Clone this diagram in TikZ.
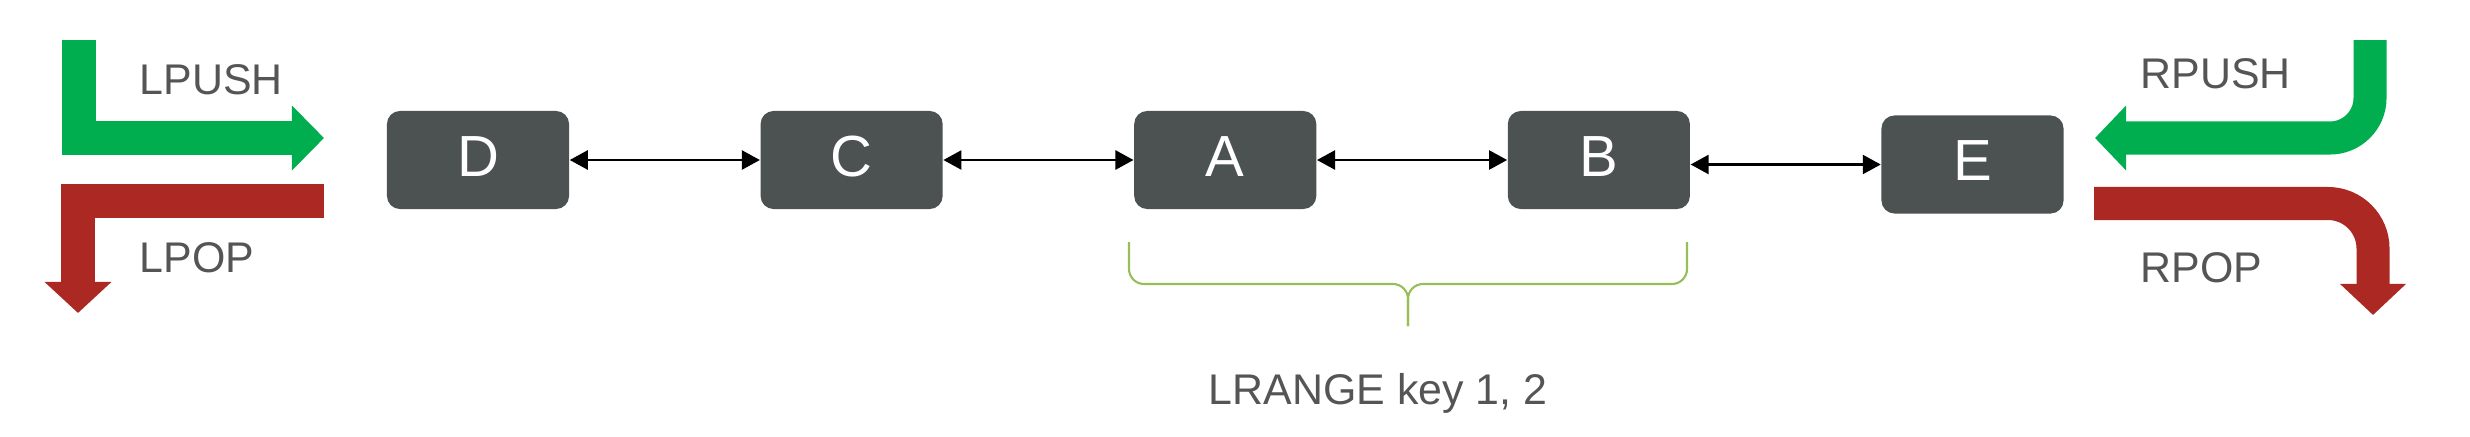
\documentclass[tikz,border=0pt]{standalone}
\usepackage{fontspec}
\setmainfont{Liberation Sans}
\usetikzlibrary{arrows.meta,positioning}

\definecolor{pushgreen}{RGB}{0,174,80}
\definecolor{popred}{RGB}{172,41,35}
\definecolor{elemgray}{RGB}{76,82,82}
\definecolor{labelgray}{RGB}{85,85,85}
\definecolor{rangegreen}{RGB}{152,190,88}

\begin{document}
\begin{tikzpicture}[x=0.01cm, y=-0.01cm, node distance=1.9cm,
  elem/.style={fill=elemgray, rounded corners=0.13cm, minimum width=1.82cm, minimum height=0.98cm, text=white, font=\fontsize{16.5}{20}\selectfont, text height=0.42cm, text depth=0.1cm},
  oplabel/.style={text=labelgray, font=\fontsize{12.2}{15}\selectfont, inner sep=0pt, anchor=base west},
  bigarrow/.style={line width=0.33cm},
  >={Triangle[length=0.18cm, width=0.19cm]}]
\useasboundingbox (0,0) rectangle (2470,436);
\node[elem] (D) at (478,160) {D};
\node[elem, right=of D] (C) {C};
\node[elem, right=of C] (A) {A};
\node[elem, right=of A] (B) {B};
\node[elem, right=of B, yshift=-0.045cm] (E) {E};
\draw[<->, line width=0.7pt] (D) -- (C);
\draw[<->, line width=0.7pt] (C) -- (A);
\draw[<->, line width=0.7pt] (A) -- (B);
\draw[<->, line width=0.7pt] (B.east |- E.west) -- (E.west);
% left end
\draw[bigarrow, pushgreen, -{Triangle[length=0.32cm, width=0.63cm]}] (79,40) -- (79,138) -- (324,138);
\draw[bigarrow, popred, -{Triangle[length=0.31cm, width=0.65cm]}] (324,201) -- (78,201) -- (78,313);
\node[oplabel] (lpush) at (139,94) {LPUSH};
\node[oplabel] (lpop) at (139,272) {LPOP};
% right end
\draw[bigarrow, pushgreen, rounded corners=0.4cm, -{Triangle[length=0.31cm, width=0.63cm]}] (2370,40) -- (2370,138) -- (2095,138);
\draw[bigarrow, popred, rounded corners=0.45cm, -{Triangle[length=0.31cm, width=0.64cm]}] (2094,203.5) -- (2373,203.5) -- (2373,315);
\node[oplabel] (rpush) at (2140,88) {RPUSH};
\node[oplabel] (rpop) at (2140,282) {RPOP};
% range
\draw[rangegreen, line width=0.6pt, rounded corners=0.15cm] (1129,242) -- (1129,284) -- (1408,284) -- (1408,326);
\draw[rangegreen, line width=0.6pt, rounded corners=0.15cm] (1687,242) -- (1687,284) -- (1408,284) -- (1408,326);
\node[text=labelgray, font=\fontsize{12.2}{15}\selectfont, inner sep=0pt, anchor=base] (range) at (1378,404) {LRANGE key 1, 2};
\end{tikzpicture}
\end{document}
